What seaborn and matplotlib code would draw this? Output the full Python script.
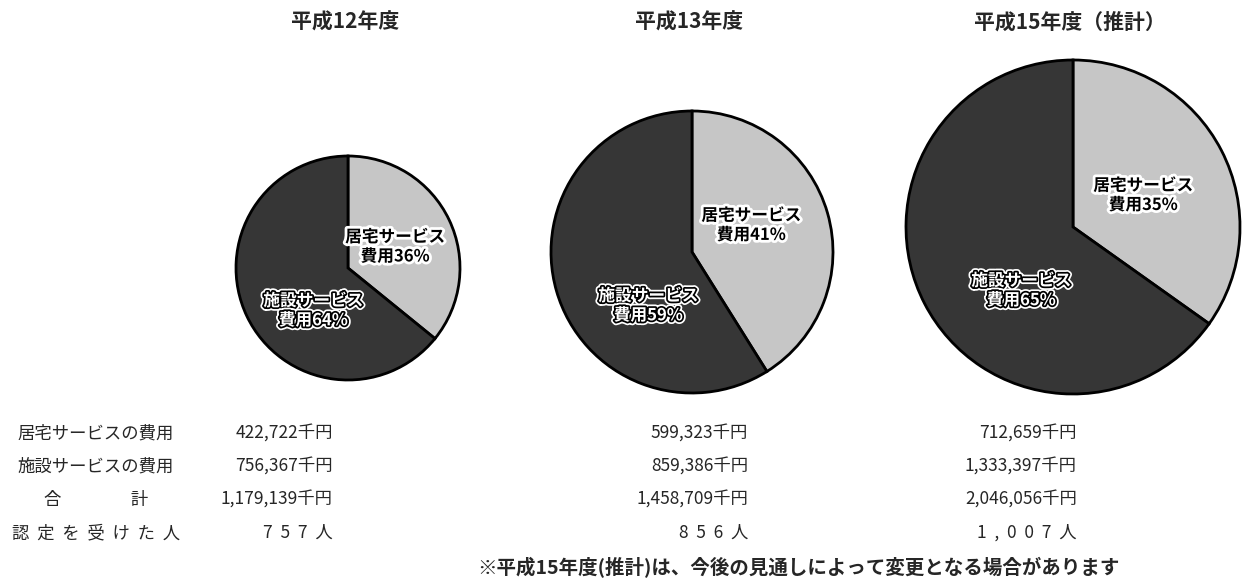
import matplotlib
matplotlib.use("Agg")
import matplotlib.pyplot as plt
import matplotlib.patheffects as pe
import seaborn as sns

# data
years = ["平成12年度", "平成13年度", "平成15年度（推計）"]
home_cost = [422722, 599323, 712659]          # 居宅サービスの費用 (千円)
facility_cost = [756367, 859386, 1333397]     # 施設サービスの費用 (千円)
total_cost = [1179139, 1458709, 2046056]      # 合計 (千円)
certified = [757, 856, 1007]                  # 認定を受けた人
slice_names = ["居宅サービス", "施設サービス"]
row_labels = ["居宅サービスの費用", "施設サービスの費用", "合　　　　計", "認  定  を  受  け  た  人"]
note = "※平成15年度(推計)は、今後の見通しによって変更となる場合があります"

# layout (pixel coordinates, y measured from the top)
W, H = 1260, 581
centers = [(348, 268), (692, 252), (1073, 227)]
radii = [112, 141, 167]
title_y = 22
value_right = [333, 748, 1077]
row_y = [434, 467, 500, 533]
label_x = 96
note_xy = (798, 568)
home_lbl = (0.42, 0.19)
fac_lbl = (-0.31, -0.38)

sns.set_theme(style="white")
plt.rcParams['font.family'] = ['Noto Sans CJK JP', 'DejaVu Sans']
pal = sns.color_palette(["#c6c6c6", "#363636"])

fig = plt.figure(figsize=(12.6, 5.81), dpi=100)
ax = fig.add_axes([0, 0, 1, 1])

light_fx = [pe.withStroke(linewidth=4, foreground="white")]
dark_fx = [pe.withStroke(linewidth=5, foreground="white"),
           pe.withStroke(linewidth=2.5, foreground="black")]

for i in range(len(years)):
    cx, cy = centers[i]
    r = radii[i]
    y = H - cy
    vals = [home_cost[i], facility_cost[i]]
    ax.pie(vals, colors=pal, startangle=90, counterclock=False,
           center=(cx, y), radius=r,
           wedgeprops=dict(edgecolor="black", linewidth=2))
    pct = [round(100 * v / sum(vals)) for v in vals]

    ax.text(cx + home_lbl[0] * r, y + home_lbl[1] * r,
            f"{slice_names[0]}\n費用{pct[0]}%", ha="center", va="center",
            fontsize=12, fontweight="bold", color="black",
            linespacing=1.1, path_effects=light_fx)
    ax.text(cx + fac_lbl[0] * r, y + fac_lbl[1] * r,
            f"{slice_names[1]}\n費用{pct[1]}%", ha="center", va="center",
            fontsize=12, fontweight="bold", color="white",
            linespacing=1.1, path_effects=dark_fx)

    ax.text(centers[i][0] - 3, H - title_y, years[i], ha="center", va="center",
            fontsize=15, fontweight="bold")

    col = [f"{home_cost[i]:,}千円", f"{facility_cost[i]:,}千円",
           f"{total_cost[i]:,}千円", "  ".join(list(f"{certified[i]:,}") + ["人"])]
    for txt, ry in zip(col, row_y):
        ax.text(value_right[i], H - ry, txt, ha="right", va="center", fontsize=12.5)

for txt, ry in zip(row_labels, row_y):
    ax.text(label_x, H - ry, txt, ha="center", va="center", fontsize=12.5)

ax.text(note_xy[0], H - note_xy[1], note, ha="center", va="center",
        fontsize=14, fontweight="bold")

ax.set_xlim(0, W)
ax.set_ylim(0, H)
ax.set_aspect("equal")
ax.axis("off")

fig.savefig("out.png", dpi=100)
